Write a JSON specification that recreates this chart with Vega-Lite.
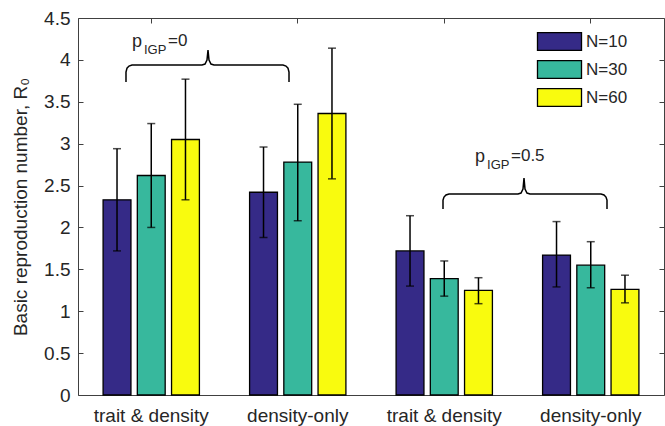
{
  "$schema": "https://vega.github.io/schema/vega-lite/v6.json",
  "width": 586,
  "height": 377,
  "autosize": {"type": "none"},
  "padding": {"left": 78, "top": 18, "right": 1, "bottom": 31},
  "background": "white",
  "config": {
    "view": {"stroke": "#404040", "strokeWidth": 1},
    "font": "Liberation Sans",
    "axis": {"labelFont": "Liberation Sans", "titleFont": "Liberation Sans", "labelColor": "#262626", "titleColor": "#262626", "tickColor": "#404040", "domain": false, "grid": false},
    "legend": {"labelFont": "Liberation Sans", "labelColor": "#262626"}
  },
  "datasets": {
    "bars": [
      {"cat": "trait & density|0", "N": "N=10", "R0": 2.33, "lo": 1.72, "hi": 2.94},
      {"cat": "trait & density|0", "N": "N=30", "R0": 2.62, "lo": 2.00, "hi": 3.24},
      {"cat": "trait & density|0", "N": "N=60", "R0": 3.05, "lo": 2.33, "hi": 3.77},
      {"cat": "density-only|0", "N": "N=10", "R0": 2.42, "lo": 1.88, "hi": 2.96},
      {"cat": "density-only|0", "N": "N=30", "R0": 2.78, "lo": 2.08, "hi": 3.47},
      {"cat": "density-only|0", "N": "N=60", "R0": 3.36, "lo": 2.58, "hi": 4.14},
      {"cat": "trait & density|0.5", "N": "N=10", "R0": 1.72, "lo": 1.30, "hi": 2.14},
      {"cat": "trait & density|0.5", "N": "N=30", "R0": 1.39, "lo": 1.18, "hi": 1.60},
      {"cat": "trait & density|0.5", "N": "N=60", "R0": 1.25, "lo": 1.09, "hi": 1.40},
      {"cat": "density-only|0.5", "N": "N=10", "R0": 1.67, "lo": 1.29, "hi": 2.07},
      {"cat": "density-only|0.5", "N": "N=30", "R0": 1.55, "lo": 1.28, "hi": 1.83},
      {"cat": "density-only|0.5", "N": "N=60", "R0": 1.26, "lo": 1.10, "hi": 1.43}
    ],
    "braces": [
      {"b": "A", "i": 1, "bx": 0.8276, "by": 3.735},
      {"b": "A", "i": 2, "bx": 0.8276, "by": 3.854},
      {"b": "A", "i": 3, "bx": 0.8345, "by": 3.902},
      {"b": "A", "i": 4, "bx": 0.8481, "by": 3.926},
      {"b": "A", "i": 5, "bx": 0.8686, "by": 3.938},
      {"b": "A", "i": 6, "bx": 1.3464, "by": 3.938},
      {"b": "A", "i": 7, "bx": 1.3669, "by": 3.950},
      {"b": "A", "i": 8, "bx": 1.3805, "by": 3.998},
      {"b": "A", "i": 9, "bx": 1.3874, "by": 4.117},
      {"b": "A", "i": 10, "bx": 1.3942, "by": 3.998},
      {"b": "A", "i": 11, "bx": 1.4078, "by": 3.950},
      {"b": "A", "i": 12, "bx": 1.4283, "by": 3.938},
      {"b": "A", "i": 13, "bx": 1.8993, "by": 3.938},
      {"b": "A", "i": 14, "bx": 1.9198, "by": 3.926},
      {"b": "A", "i": 15, "bx": 1.9334, "by": 3.902},
      {"b": "A", "i": 16, "bx": 1.9403, "by": 3.854},
      {"b": "A", "i": 17, "bx": 1.9403, "by": 3.735},
      {"b": "B", "i": 1, "bx": 2.9915, "by": 2.220},
      {"b": "B", "i": 2, "bx": 2.9915, "by": 2.327},
      {"b": "B", "i": 3, "bx": 2.9983, "by": 2.363},
      {"b": "B", "i": 4, "bx": 3.0119, "by": 2.387},
      {"b": "B", "i": 5, "bx": 3.0324, "by": 2.399},
      {"b": "B", "i": 6, "bx": 3.5034, "by": 2.399},
      {"b": "B", "i": 7, "bx": 3.5239, "by": 2.411},
      {"b": "B", "i": 8, "bx": 3.5375, "by": 2.458},
      {"b": "B", "i": 9, "bx": 3.5444, "by": 2.589},
      {"b": "B", "i": 10, "bx": 3.5512, "by": 2.458},
      {"b": "B", "i": 11, "bx": 3.5648, "by": 2.411},
      {"b": "B", "i": 12, "bx": 3.5853, "by": 2.399},
      {"b": "B", "i": 13, "bx": 4.0700, "by": 2.399},
      {"b": "B", "i": 14, "bx": 4.0904, "by": 2.387},
      {"b": "B", "i": 15, "bx": 4.1041, "by": 2.363},
      {"b": "B", "i": 16, "bx": 4.1109, "by": 2.327},
      {"b": "B", "i": 17, "bx": 4.1109, "by": 2.220}
    ],
    "notes": [
      {"ax": 0.8686, "ay": 4.153, "sub": "IGP", "val": "=0"},
      {"ax": 3.210, "ay": 2.780, "sub": "IGP", "val": "=0.5"}
    ]
  },
  "layer": [
    {
      "data": {"name": "bars"},
      "layer": [
        {
          "mark": {"type": "bar", "stroke": "black", "strokeWidth": 1.3},
          "encoding": {
            "x": {
              "field": "cat", "type": "nominal",
              "sort": ["trait & density|0", "density-only|0", "trait & density|0.5", "density-only|0.5"],
              "scale": {"paddingInner": 0, "paddingOuter": 0},
              "axis": {"orient": "bottom", "title": null, "labelExpr": "split(datum.value, '|')[0]", "ticks": false, "labelFontSize": 19, "labelPadding": 11, "labelAngle": 0}
            },
            "xOffset": {"field": "N", "type": "nominal", "scale": {"paddingInner": 0.186, "paddingOuter": 0.733}},
            "y": {
              "field": "R0", "type": "quantitative",
              "scale": {"domain": [0, 4.5], "nice": false},
              "axis": {"orient": "left", "title": "Basic reproduction number, R₀", "values": [0, 0.5, 1, 1.5, 2, 2.5, 3, 3.5, 4, 4.5], "format": "~g", "tickSize": -5, "labelPadding": 13, "labelFontSize": 19, "titleFontSize": 19, "titleFontWeight": "normal", "titlePadding": 13}
            },
            "color": {
              "field": "N", "type": "nominal",
              "scale": {"domain": ["N=10", "N=30", "N=60"], "range": ["#352a87", "#37b89d", "#f9fb0e"]},
              "legend": {"orient": "none", "legendX": 472, "legendY": 14, "title": null, "padding": 0, "symbolType": "M-2.5,-1H2.5V1H-2.5Z", "symbolSize": 310, "symbolStrokeColor": "black", "symbolStrokeWidth": 1.3, "symbolOpacity": 1, "labelFontSize": 17, "labelOffset": 17, "rowPadding": 5}
            }
          }
        },
        {
          "mark": {"type": "rule", "color": "black", "strokeWidth": 1.5},
          "encoding": {
            "x": {
              "field": "cat", "type": "nominal",
              "sort": ["trait & density|0", "density-only|0", "trait & density|0.5", "density-only|0.5"],
              "axis": {"orient": "top", "title": null, "labels": false, "tickSize": -5}
            },
            "xOffset": {"field": "N", "type": "nominal"},
            "y": {"field": "lo", "type": "quantitative", "axis": {"orient": "right", "title": null, "labels": false, "tickSize": -5, "values": [0, 0.5, 1, 1.5, 2, 2.5, 3, 3.5, 4, 4.5]}},
            "y2": {"field": "hi"}
          }
        },
        {
          "mark": {"type": "tick", "color": "black", "thickness": 1.5, "size": 8},
          "encoding": {
            "x": {"field": "cat", "type": "nominal", "sort": ["trait & density|0", "density-only|0", "trait & density|0.5", "density-only|0.5"], "axis": null},
            "xOffset": {"field": "N", "type": "nominal"},
            "y": {"field": "lo", "type": "quantitative", "axis": null}
          }
        },
        {
          "mark": {"type": "tick", "color": "black", "thickness": 1.5, "size": 8},
          "encoding": {
            "x": {"field": "cat", "type": "nominal", "sort": ["trait & density|0", "density-only|0", "trait & density|0.5", "density-only|0.5"], "axis": null},
            "xOffset": {"field": "N", "type": "nominal"},
            "y": {"field": "hi", "type": "quantitative", "axis": null}
          }
        }
      ],
      "resolve": {"axis": {"x": "independent", "y": "independent"}}
    },
    {
      "data": {"name": "braces"},
      "mark": {"type": "line", "color": "black", "strokeWidth": 1.5, "interpolate": "linear"},
      "encoding": {
        "x": {"field": "bx", "type": "quantitative", "scale": {"domain": [0.5, 4.5], "nice": false, "zero": false}, "axis": null},
        "y": {"field": "by", "type": "quantitative", "axis": null},
        "detail": {"field": "b", "type": "nominal"},
        "order": {"field": "i", "type": "quantitative"}
      }
    },
    {
      "data": {"name": "notes"},
      "mark": {"type": "text", "align": "left", "baseline": "alphabetic", "fontSize": 18, "color": "#262626", "font": "Liberation Sans"},
      "encoding": {
        "x": {"field": "ax", "type": "quantitative", "scale": {"domain": [0.5, 4.5], "nice": false, "zero": false}, "axis": null},
        "y": {"field": "ay", "type": "quantitative", "axis": null},
        "text": {"value": "p"}
      }
    },
    {
      "data": {"name": "notes"},
      "mark": {"type": "text", "align": "left", "baseline": "alphabetic", "fontSize": 13, "dx": 12, "dy": 7, "color": "#262626", "font": "Liberation Sans"},
      "encoding": {
        "x": {"field": "ax", "type": "quantitative", "scale": {"domain": [0.5, 4.5], "nice": false, "zero": false}, "axis": null},
        "y": {"field": "ay", "type": "quantitative", "axis": null},
        "text": {"field": "sub"}
      }
    },
    {
      "data": {"name": "notes"},
      "mark": {"type": "text", "align": "left", "baseline": "alphabetic", "fontSize": 17, "dx": 36, "dy": -1, "color": "#262626", "font": "Liberation Sans"},
      "encoding": {
        "x": {"field": "ax", "type": "quantitative", "scale": {"domain": [0.5, 4.5], "nice": false, "zero": false}, "axis": null},
        "y": {"field": "ay", "type": "quantitative", "axis": null},
        "text": {"field": "val"}
      }
    }
  ],
  "resolve": {"scale": {"x": "independent"}, "axis": {"x": "independent", "y": "independent"}}
}
